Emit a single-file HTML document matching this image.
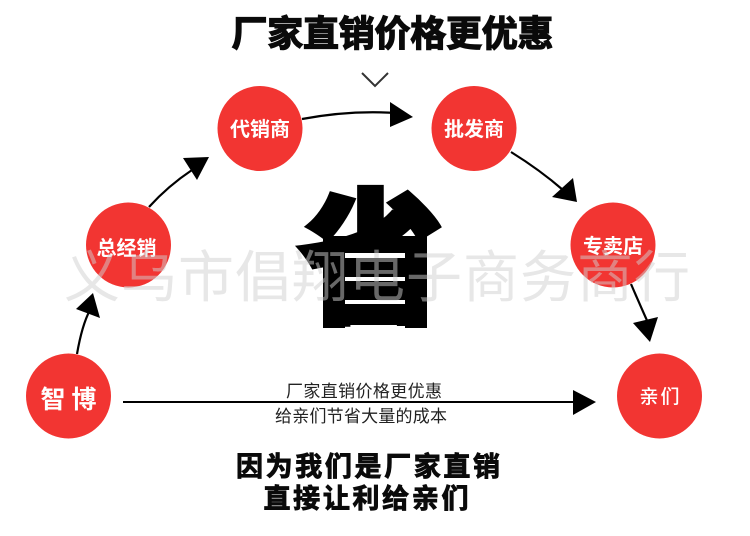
<!DOCTYPE html>
<html><head><meta charset="utf-8">
<style>
html,body{margin:0;padding:0;background:#fff;width:750px;height:536px;overflow:hidden}
svg{display:block}
text{font-family:"Liberation Sans","Noto Sans CJK SC",sans-serif}
</style></head>
<body>
<svg width="750" height="536" viewBox="0 0 750 536" xmlns="http://www.w3.org/2000/svg">
<rect width="750" height="536" fill="#fff"/>
<text x="392.5" y="46" text-anchor="middle" font-size="36" font-weight="700" fill="#0a0a0a" stroke="#0a0a0a" stroke-width="1.3" textLength="322" lengthAdjust="spacing">厂家直销价格更优惠</text>
<path d="M362 73 L375 86 L388 73" fill="none" stroke="#333" stroke-width="2"/>

<text x="371" y="310" text-anchor="middle" font-size="143" font-weight="900" fill="#000" stroke="#000" stroke-width="6">省</text>
<rect x="323" y="236" width="104" height="89" fill="#000"/>
<rect x="323" y="320" width="22" height="8" fill="#000"/>
<rect x="405" y="320" width="22" height="8" fill="#000"/>
<g fill="#fff">
<rect x="345" y="253" width="60" height="5"/>
<rect x="345" y="277" width="60" height="4"/>
<rect x="345" y="300" width="60" height="4"/>
</g>

<g fill="#f23532">
<circle cx="260" cy="128.500" r="42.500"/>
<circle cx="474" cy="128.500" r="42.500"/>
<circle cx="128.500" cy="245" r="42.500"/>
<circle cx="613" cy="245" r="42.500"/>
<circle cx="68.500" cy="396" r="42.500"/>
<circle cx="659.500" cy="396" r="42.500"/>
</g>

<g fill="none" stroke="#000" stroke-width="2.200">
<path d="M302 119 Q350 110 396 113"/>
<path d="M511 152 Q540 170 563 190"/>
<path d="M149 207 Q168 186 192 170"/>
<path d="M77 354 Q82 325 90 310"/>
<path d="M631 284 Q640 305 649 325"/>
<path d="M123 402 H580" stroke-width="2"/>
</g>
<g fill="#000">
<polygon points="390,102 413,117 390,127"/>
<polygon points="552,197 573,178 577,202"/>
<polygon points="183,158 209,157 197,180"/>
<polygon points="76,309 93,293 100,318"/>
<polygon points="633,323 658,317 650,342"/>
<polygon points="573,390 596,402 573,415"/>
</g>

<g fill="#fff" font-weight="700" text-anchor="middle" font-size="20">
<text x="260" y="136" textLength="60">代销商</text>
<text x="474" y="136" textLength="60">批发商</text>
<text x="126.500" y="255" textLength="60" font-size="20">总经销</text>
<text x="613" y="253" textLength="60">专卖店</text>
<text x="68.500" y="408" font-size="25" textLength="56">智 博</text>
<text x="659.500" y="403" font-size="19" textLength="40" font-weight="500">亲们</text>
</g>

<text x="377" y="297" text-anchor="middle" font-size="56" fill="#d0d0d0" fill-opacity=".5" textLength="626" lengthAdjust="spacing">义乌市倡翔电子商务商行</text>

<text x="364" y="397" text-anchor="middle" font-size="17" fill="#222" textLength="156">厂家直销价格更优惠</text>
<text x="361" y="422" text-anchor="middle" font-size="17" fill="#222" textLength="172">给亲们节省大量的成本</text>

<text x="368" y="476" text-anchor="middle" font-size="27" font-weight="700" fill="#0a0a0a" stroke="#0a0a0a" stroke-width=".9" textLength="264">因为我们是厂家直销</text>
<text x="366" y="508" text-anchor="middle" font-size="27" font-weight="700" fill="#0a0a0a" stroke="#0a0a0a" stroke-width=".9" textLength="205">直接让利给亲们</text>
</svg>
</body></html>
